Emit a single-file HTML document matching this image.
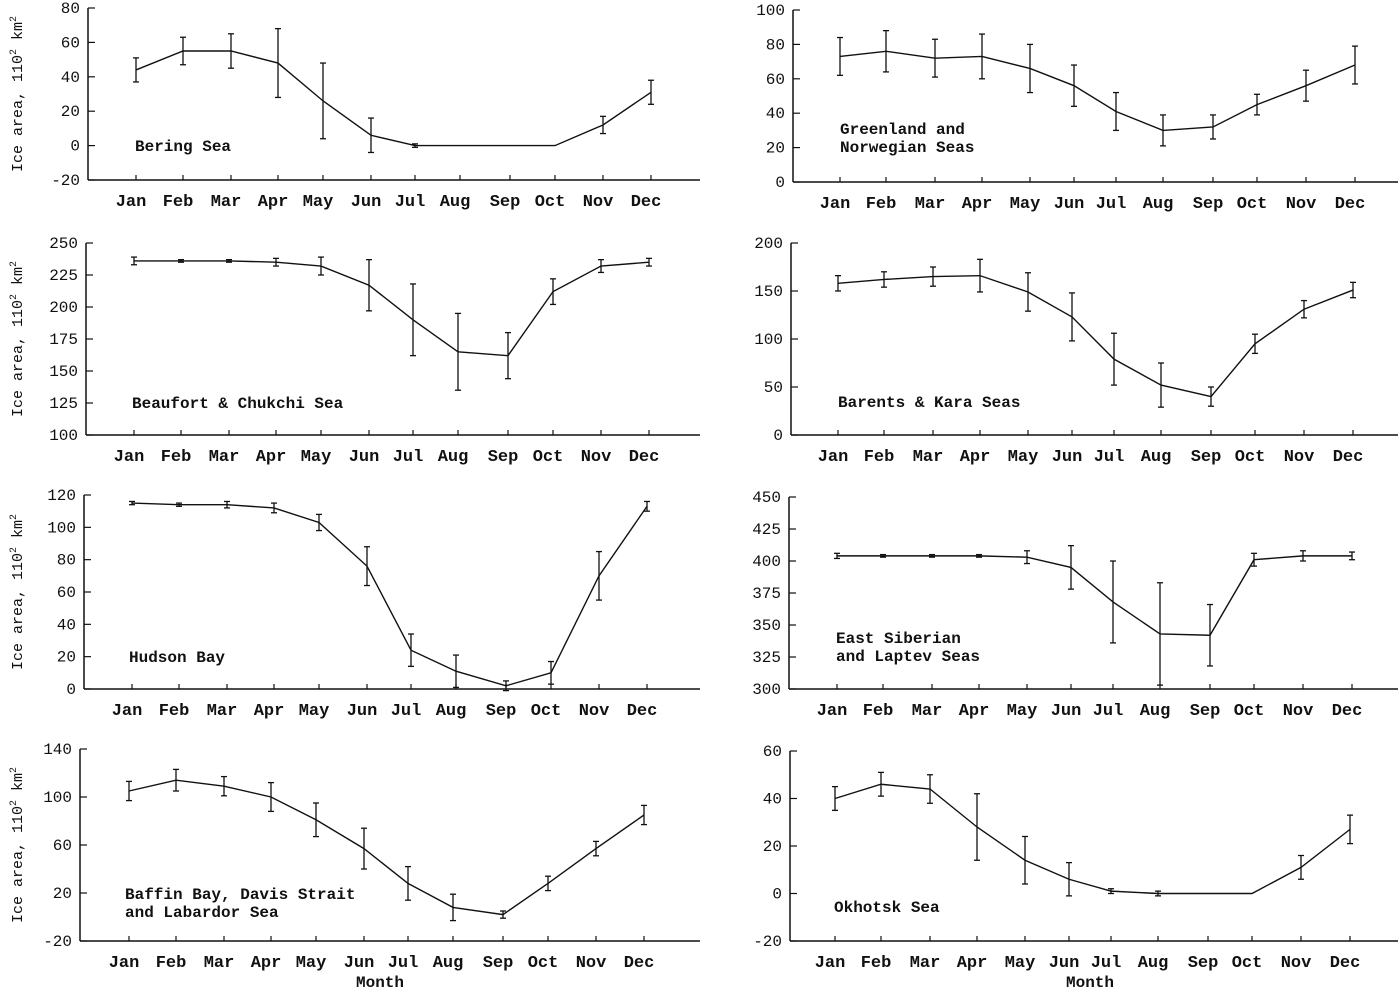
<!DOCTYPE html>
<html><head><meta charset="utf-8"><style>
html,body{margin:0;padding:0;background:#fff;}
svg{display:block;}
text{font-family:"Liberation Mono","DejaVu Sans Mono",monospace;fill:#111;}
</style></head>
<body>
<svg id="fig" width="1400" height="989" viewBox="0 0 1400 989" xmlns="http://www.w3.org/2000/svg"></svg>
<script>
const months = ["Jan","Feb","Mar","Apr","May","Jun","Jul","Aug","Sep","Oct","Nov","Dec"];
const beringVals = [44,55,55,48,26,6,0,0,0,0,12,31];
const beringErr  = [7,8,10,20,22,10,1,0,0,0,5,7];
const greenlandVals = [73,76,72,73,66,56,41,30,32,45,56,68];
const greenlandErr  = [11,12,11,13,14,12,11,9,7,6,9,11];
const beaufortVals = [236,236,236,235,232,217,190,165,162,212,232,235];
const beaufortErr  = [3,1,1,3,7,20,28,30,18,10,5,3];
const barentsVals = [158,162,165,166,149,123,79,52,40,95,131,151];
const barentsErr  = [8,8,10,17,20,25,27,23,10,10,9,8];
const hudsonVals = [115,114,114,112,103,76,24,11,2,10,70,113];
const hudsonErr  = [1,1,2,3,5,12,10,10,3,7,15,3];
const siberianVals = [404,404,404,404,403,395,368,343,342,401,404,404];
const siberianErr  = [2,1,1,1,5,17,32,40,24,5,4,3];
const baffinVals = [105,114,109,100,81,57,28,8,2,28,57,85];
const baffinErr  = [8,9,8,12,14,17,14,11,3,6,6,8];
const okhotskVals = [40,46,44,28,14,6,1,0,0,0,11,27];
const okhotskErr  = [5,5,6,14,10,7,1,1,0,0,5,6];

const leftX  = [136,183,231,278,323,371,415,460,510,555,603,651];
const rightX = [840,886,935,982,1030,1074,1116,1163,1213,1257,1306,1355];

const panels = [
 {name:"bering",vals:beringVals,err:beringErr,ax:88,top:8,bot:180,ymin:-20,ymax:80,step:20,xs:leftX,dx:0,right:700,lab:["Bering Sea"],lx:135,ly:151,left:true},
 {name:"greenland",vals:greenlandVals,err:greenlandErr,ax:793,top:10,bot:182,ymin:0,ymax:100,step:20,xs:rightX,dx:0,right:1398,lab:["Greenland and","Norwegian Seas"],lx:840,ly:134,left:false},
 {name:"beaufort",vals:beaufortVals,err:beaufortErr,ax:86,top:243,bot:435,ymin:100,ymax:250,step:25,xs:leftX,dx:-2,right:700,lab:["Beaufort & Chukchi Sea"],lx:132,ly:408,left:true},
 {name:"barents",vals:barentsVals,err:barentsErr,ax:791,top:243,bot:435,ymin:0,ymax:200,step:50,xs:rightX,dx:-2,right:1398,lab:["Barents & Kara Seas"],lx:838,ly:407,left:false},
 {name:"hudson",vals:hudsonVals,err:hudsonErr,ax:84,top:495,bot:689,ymin:0,ymax:120,step:20,xs:leftX,dx:-4,right:700,lab:["Hudson Bay"],lx:129,ly:662,left:true},
 {name:"east-siberian",vals:siberianVals,err:siberianErr,ax:789,top:497,bot:689,ymin:300,ymax:450,step:25,xs:rightX,dx:-3,right:1398,lab:["East Siberian","and Laptev Seas"],lx:836,ly:643,left:false},
 {name:"baffin",vals:baffinVals,err:baffinErr,ax:80,top:749,bot:941,ymin:-20,ymax:140,step:40,xs:leftX,dx:-7,right:700,lab:["Baffin Bay, Davis Strait","and Labardor Sea"],lx:125,ly:899,left:true},
 {name:"okhotsk",vals:okhotskVals,err:okhotskErr,ax:790,top:751,bot:941,ymin:-20,ymax:60,step:20,xs:rightX,dx:-5,right:1398,lab:["Okhotsk Sea"],lx:834,ly:912,left:false}
];
const NS="http://www.w3.org/2000/svg";
const svg=document.getElementById('fig');
function mk(tag,attrs,parent){const e=document.createElementNS(NS,tag);for(const k in attrs)e.setAttribute(k,attrs[k]);(parent||svg).appendChild(e);return e;}

panels.forEach((p,pi)=>{
  const g=mk('g',{});
  
  
  const y=v=>p.bot-(v-p.ymin)/(p.ymax-p.ymin)*(p.bot-p.top);
  const x=i=>p.xs[i]+p.dx;
  const ya=mk('line',{x1:p.ax,y1:p.top,x2:p.ax,y2:p.bot,stroke:'#111','stroke-width':1.5},g);
  
  
  const xa=mk('line',{x1:p.ax,y1:p.bot,x2:p.right,y2:p.bot,stroke:'#111','stroke-width':1.5},g);
  
  
  for(let v=p.ymin;v<=p.ymax+1e-9;v+=p.step){
    mk('line',{x1:p.ax,y1:y(v),x2:p.ax+7,y2:y(v),stroke:'#111','stroke-width':1.2},g);
    const t=mk('text',{x:p.ax-8,y:y(v)+5,'text-anchor':'end','font-size':16},g);
    t.textContent=v;
    
    
  }
  months.forEach((m,i)=>{
    mk('line',{x1:x(i),y1:p.bot,x2:x(i),y2:p.bot-5,stroke:'#111','stroke-width':1.2},g);
    const t=mk('text',{x:x(i)-5,y:p.bot+26,'text-anchor':'middle','font-size':17,'font-weight':'bold'},g);
    t.textContent=m;
    
    
  });
  const pts=p.vals.map((v,i)=>x(i)+','+y(v)).join(' ');
  const pl=mk('polyline',{points:pts,fill:'none',stroke:'#111','stroke-width':1.4},g);
  
  
  p.vals.forEach((v,i)=>{
    const e=p.err[i];
    if(e<=0)return;
    const eg=mk('g',{stroke:'#111','stroke-width':1.3},g);
    
    
    mk('line',{x1:x(i),y1:y(v-e),x2:x(i),y2:y(v+e)},eg);
    mk('line',{x1:x(i)-3,y1:y(v-e),x2:x(i)+3,y2:y(v-e)},eg);
    mk('line',{x1:x(i)-3,y1:y(v+e),x2:x(i)+3,y2:y(v+e)},eg);
  });
  p.lab.forEach((s,k)=>{
    const t=mk('text',{x:p.lx,y:p.ly+k*18,'font-size':16,'font-weight':'bold'},g);
    t.textContent=s;
    
    
  });
  if(p.left){
    const cy=(p.top+p.bot)/2;
    const t=mk('text',{x:0,y:0,transform:`translate(22,${cy}) rotate(-90)`,'text-anchor':'middle','font-size':15},g);
    t.innerHTML='Ice area, 110<tspan dy="-6" font-size="10">2</tspan><tspan dy="6"> km</tspan><tspan dy="-6" font-size="10">2</tspan>';
    
    
  }
});
[[380,'x-axis-title-left'],[1090,'x-axis-title-right']].forEach(([cx,n])=>{
  const t=mk('text',{x:cx,y:987,'text-anchor':'middle','font-size':16,'font-weight':'bold'});
  t.textContent='Month';
  
  
});
</script>
</body></html>
